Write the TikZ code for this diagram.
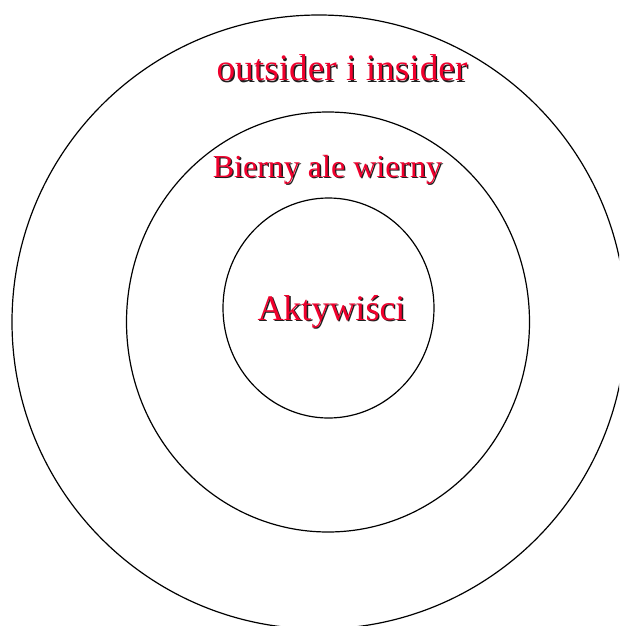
\documentclass[tikz,border=0pt]{standalone}
\usepackage{fontspec}
\setmainfont{Liberation Serif}
\definecolor{ringred}{RGB}{240,0,45}
\definecolor{shadowgray}{RGB}{30,30,30}
\begin{document}
\begin{tikzpicture}[x=0.75pt,y=-0.75pt,
  ring/.style={draw=black,line width=0.9pt},
  lbl/.style={inner sep=0pt,anchor=base,text=ringred},
  lblshadow/.style={inner sep=0pt,anchor=base,text=shadowgray}]
\useasboundingbox (0,0) rectangle (619,626);
\clip (0,0) rectangle (619,626);
\fill[white] (0,0) rectangle (619,626);
% rings
\draw[ring] (319,322) ellipse [x radius=307, y radius=307];
\draw[ring] (328,322) ellipse [x radius=201.5, y radius=210];
\draw[ring] (328.5,308) ellipse [x radius=105.5, y radius=110];
% labels with shadow
\node[lblshadow,font=\fontsize{28}{32}\selectfont] (outS) at (343.3,82.0) {outsider i insider};
\node[lbl,font=\fontsize{28}{32}\selectfont] (out) at (342,80.7) {outsider i insider};
\node[lblshadow,font=\fontsize{24}{28}\selectfont] (midS) at (328.8,178.6) {Bierny ale wierny};
\node[lbl,font=\fontsize{24}{28}\selectfont] (mid) at (327.5,177.3) {Bierny ale wierny};
\node[lblshadow,font=\fontsize{27}{31}\selectfont] (inS) at (332.8,321.3) {Aktywiści};
\node[lbl,font=\fontsize{27}{31}\selectfont] (in) at (331.5,320) {Aktywiści};
\end{tikzpicture}
\end{document}
